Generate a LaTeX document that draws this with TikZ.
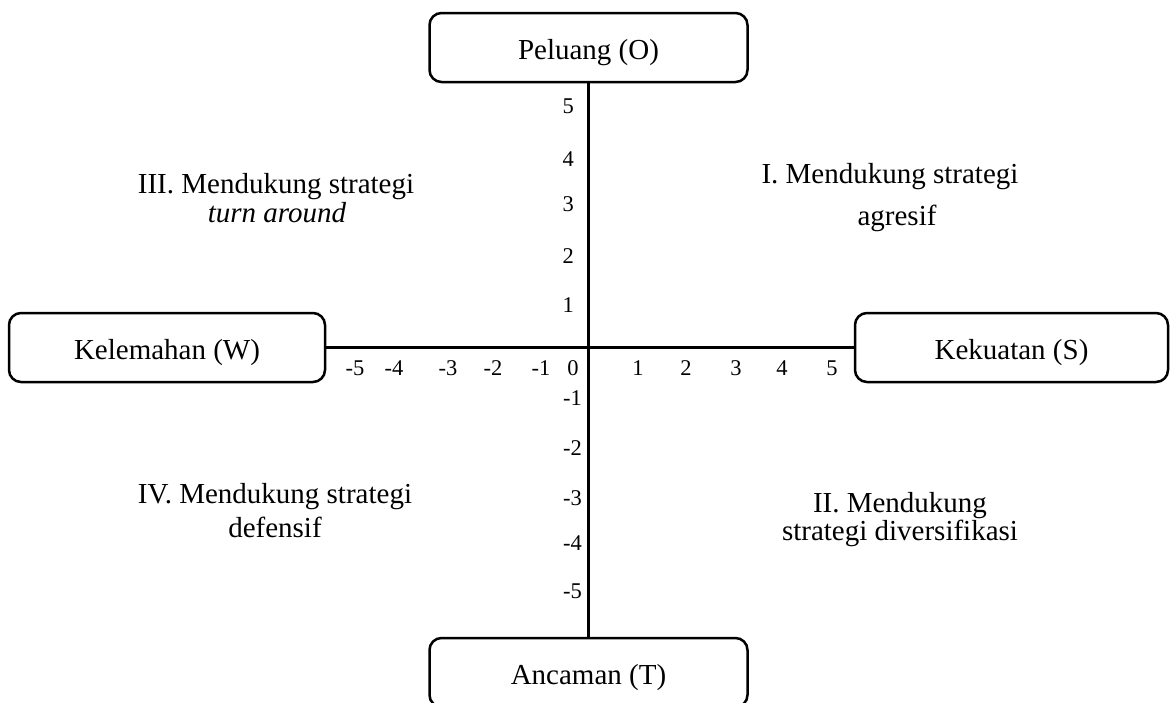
\documentclass[tikz,border=0pt]{standalone}
\usepackage{fontspec}
\setmainfont{Liberation Serif}
\begin{document}
\begin{tikzpicture}[x=1pt,y=-1pt,
  box/.style={draw, line width=2.5pt, rounded corners=12pt, minimum width=316pt, minimum height=69pt, inner sep=0pt, text height=23pt, text depth=0pt, font=\fontsize{29}{34}\selectfont},
  axisline/.style={line width=2.5pt},
  tick/.style={font=\fontsize{22.5}{26}\selectfont, inner sep=0pt},
  quad/.style={font=\fontsize{29}{34}\selectfont, inner sep=0pt, anchor=base}]
\clip (0,0) rectangle (1170,702);
\path[use as bounding box] (0,0) rectangle (1170,702);
% boxes
\node[box, minimum width=318pt] (O) at (588.5,47.5) {Peluang (O)};
\node[box, minimum width=318pt] (T) at (588.5,672.5) {Ancaman (T)};
\node[box] (W) at (167,347.5) {Kelemahan (W)};
\node[box, minimum width=313pt] (S) at (1011.5,347.5) {Kekuatan (S)};
% axes
\draw[axisline] (O.south) -- (T.north);
\draw[axisline] (W.east) -- (S.west);
% horizontal ticks
\foreach \n/\v/\x in {hm5/-5/355, hm4/-4/394, hm3/-3/448, hm2/-2/493, hm1/-1/541, hz/0/573, hp1/1/638, hp2/2/686, hp3/3/736, hp4/4/782, hp5/5/832}
  \node[tick, anchor=base] (\n) at (\x,375) {\v};
% vertical ticks
\foreach \n/\v/\y in {vp5/5/113, vp4/4/166, vp3/3/211, vp2/2/263, vp1/1/312}
  \node[tick, anchor=base east] (\n) at (574,\y) {\v};
\foreach \n/\v/\y in {vm1/-1/405, vm2/-2/455, vm3/-3/505, vm4/-4/550, vm5/-5/598}
  \node[tick, anchor=base east] (\n) at (582,\y) {\v};
% quadrant texts
\node[quad] (q3a) at (276,193) {III. Mendukung strategi};
\node[quad] (q3b) at (277,222) {\itshape turn around};
\node[quad] (q1a) at (890,183) {I. Mendukung strategi};
\node[quad] (q1b) at (897,225) {agresif};
\node[quad] (q4a) at (275,503) {IV. Mendukung strategi};
\node[quad] (q4b) at (275,537) {defensif};
\node[quad] (q2a) at (900,512) {II. Mendukung};
\node[quad] (q2b) at (900,540) {strategi diversifikasi};
\end{tikzpicture}
\end{document}
